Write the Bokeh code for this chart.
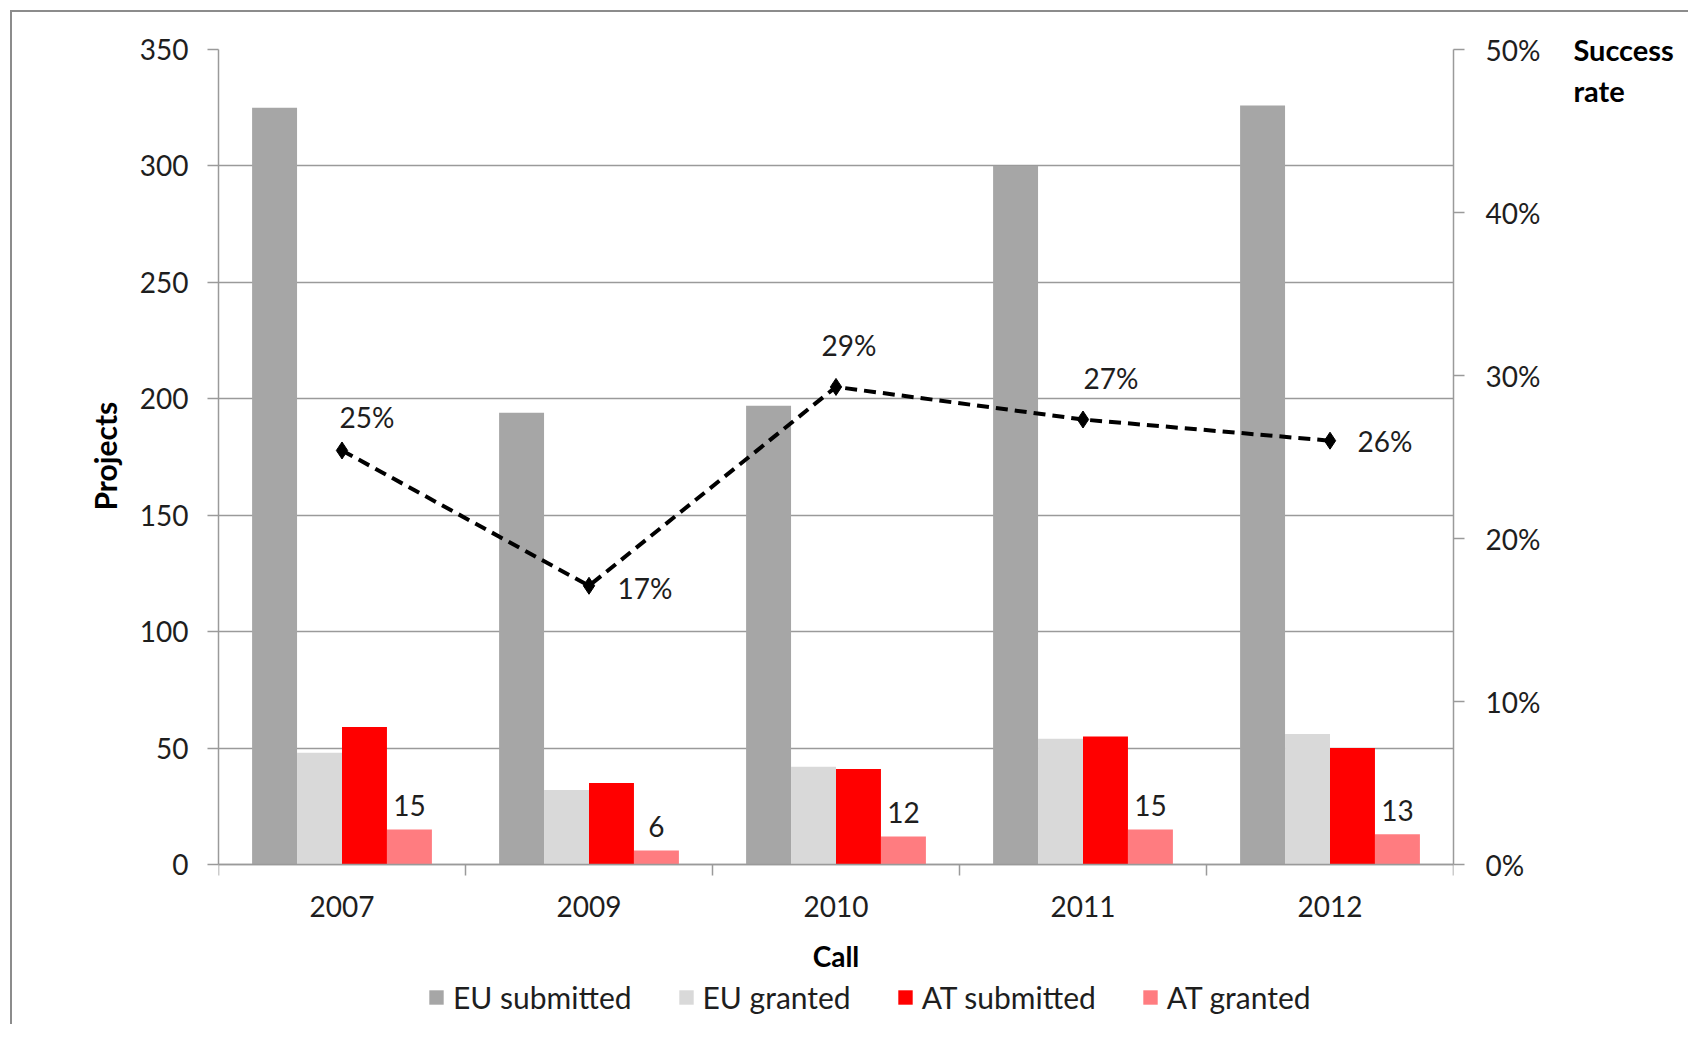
import numpy as np
from bokeh.plotting import figure
from bokeh.models import (Range1d, LinearAxis, FixedTicker, PrintfTickFormatter,
                          Legend, LegendItem, Label, ColumnDataSource, Title)
from bokeh.embed import file_html
from bokeh.resources import INLINE
from bokeh.core.properties import value

# ---------------- data ----------------
calls = ["2007", "2009", "2010", "2011", "2012"]
eu_submitted = [325, 194, 197, 300, 326]
eu_granted = [48, 32, 42, 54, 56]
at_submitted = [59, 35, 41, 55, 50]
at_granted = [15, 6, 12, 15, 13]
success_rate = [25.4, 17.1, 29.3, 27.3, 26.0]   # percent
rate_labels = ["25%", "17%", "29%", "27%", "26%"]
y_ticks = [0, 50, 100, 150, 200, 250, 300, 350]
rate_ticks = [0, 10, 20, 30, 40, 50]
y_max = 350
rate_max = 50

# ---------------- style / layout ----------------
FONT = "Lato"
FS = "28px"
FSB = "29px"
FSL = "30px"
TXT = "#1e1e1e"
AXC = "#9a9a9a"
colors = ["#A6A6A6", "#D9D9D9", "#FF0000", "#FF7C80"]
names = ["EU submitted", "EU granted", "AT submitted", "AT granted"]
bar_w = 0.182
offsets = [-1.5 * bar_w, -0.5 * bar_w, 0.5 * bar_w, 1.5 * bar_w]
rate_dx = [25, 56, 13, 28, 55]     # label offsets in pixels
rate_dy = [-33, 2, -42, -42, 0]

W, H = 1688, 1024
TOP, LEFT, RIGHT = 49, 218, 235
ZERO_PX = 864                       # pixel row of value 0
px_per_unit = (ZERO_PX - TOP) / y_max
y_min = -(H - ZERO_PX) / px_per_unit   # frame extends below 0 for labels/legend

p = figure(width=W, height=H, output_backend="svg", toolbar_location=None,
           x_range=Range1d(0, len(calls)), y_range=Range1d(y_min, y_max),
           min_border_left=LEFT, min_border_right=RIGHT, min_border_top=TOP,
           min_border_bottom=0)
p.extra_y_ranges = {"rate": Range1d(y_min * rate_max / y_max, rate_max)}
p.outline_line_color = None
p.border_fill_color = None
p.background_fill_color = "white"
p.styles = {"box-shadow": "inset 10px 10px 0 0 white, inset 12px 12px 0 0 #8c8c8c",
            "background": "white"}

centers = np.arange(len(calls)) + 0.5

# bars
series = [eu_submitted, eu_granted, at_submitted, at_granted]
renderers = []
for vals, off, col in zip(series, offsets, colors):
    r = p.vbar(x=centers + off, top=vals, width=bar_w, fill_color=col,
               line_color=None)
    renderers.append(r)

# labels on AT granted bars
p.text(x=centers + offsets[3], y=at_granted, text=[str(v) for v in at_granted],
       text_font=value(FONT), text_font_size=FS, text_color=TXT,
       text_align="center", text_baseline="alphabetic", y_offset=-24)

# success rate line
src = ColumnDataSource(dict(x=centers, y=success_rate, t=rate_labels,
                            dx=rate_dx, dy=rate_dy))
p.line(x="x", y="y", source=src, y_range_name="rate", line_color="black",
       line_width=4, line_dash="12 7")
p.scatter(x="x", y="y", source=src, y_range_name="rate", marker="diamond",
          size=17, fill_color="black", line_color="black")
p.text(x="x", y="y", text="t", source=src, y_range_name="rate",
       x_offset="dx", y_offset="dy", text_font=value(FONT), text_font_size=FS,
       text_color=TXT, text_align="center", text_baseline="middle")

# grid
p.xgrid.grid_line_color = None
p.ygrid.grid_line_color = AXC
p.ygrid.grid_line_width = 1.5

# left axis
ya = p.yaxis[0]
ya.ticker = FixedTicker(ticks=y_ticks, minor_ticks=[])
ya.bounds = (0, y_max)
ya.major_label_text_font = FONT
ya.major_label_text_font_size = FS
ya.major_label_text_color = TXT
ya.major_label_standoff = 19
ya.major_tick_out = 11
ya.major_tick_in = 0
ya.minor_tick_out = 0
ya.minor_tick_in = 0
ya.axis_line_color = AXC
ya.axis_line_width = 1.5
ya.major_tick_line_color = AXC
ya.major_tick_line_width = 1.5

# left title "Projects", placed along the 0..350 part of the axis
p.add_layout(Title(text="Projects", align="left", offset=514,
                   vertical_align="bottom", standoff=28,
                   text_font=FONT, text_font_size="30px",
                   text_font_style="bold", text_color="black"), "left")

# bottom axis, drawn at value 0 inside the extended frame
xa = p.xaxis[0]
xa.fixed_location = 0
xa.ticker = FixedTicker(ticks=list(centers),
                        minor_ticks=list(np.arange(len(calls) + 1)))
xa.major_label_overrides = {float(c): lab for c, lab in zip(centers, calls)}
xa.axis_label = "Call"
xa.axis_label_text_font = FONT
xa.axis_label_text_font_size = FS
xa.axis_label_text_font_style = "bold"
xa.axis_label_text_color = "black"
xa.axis_label_standoff = 19
xa.major_label_text_font = FONT
xa.major_label_text_font_size = FS
xa.major_label_text_color = TXT
xa.major_label_standoff = 20
xa.major_tick_out = 0
xa.major_tick_in = 0
xa.minor_tick_out = 11
xa.minor_tick_in = 0
xa.minor_tick_line_color = AXC
xa.minor_tick_line_width = 1.5
xa.axis_line_color = AXC
xa.axis_line_width = 1.5

# right axis
ra = LinearAxis(y_range_name="rate",
                ticker=FixedTicker(ticks=rate_ticks, minor_ticks=[]),
                formatter=PrintfTickFormatter(format="%d%%"),
                bounds=(0, rate_max))
ra.major_label_text_font = FONT
ra.major_label_text_font_size = FS
ra.major_label_text_color = TXT
ra.major_label_standoff = 21
ra.major_tick_out = 11
ra.major_tick_in = 0
ra.minor_tick_out = 0
ra.minor_tick_in = 0
ra.axis_line_color = AXC
ra.axis_line_width = 1.5
ra.major_tick_line_color = AXC
ra.major_tick_line_width = 1.5

if "axis_label_align" in LinearAxis.properties():
    ra.axis_label = "\nSuccess\nrate"
    ra.axis_label_orientation = "horizontal"
    ra.axis_label_align = "end"
    ra.axis_label_standoff = 30
    ra.axis_label_text_font = FONT
    ra.axis_label_text_font_size = FSB
    ra.axis_label_text_font_style = "bold"
    ra.axis_label_text_color = "black"
    ra.axis_label_text_align = "left"
    ra.axis_label_text_line_height = 1.16
else:
    for txt, yv in [("Success", 49.85), ("rate", 47.4)]:
        p.add_layout(Label(x=5.494, y=yv, y_range_name="rate", text=txt,
                           text_font=FONT, text_font_size=FSB,
                           text_font_style="bold", text_color="black",
                           text_align="left", text_baseline="middle"))
p.add_layout(ra, "right")

# legend inside the (extended) frame, below the axis
legend = Legend(items=[LegendItem(label=n, renderers=[r])
                       for n, r in zip(names, renderers)],
                orientation="horizontal", location=(209, 9),
                label_text_font=FONT, label_text_font_size=FSL,
                label_text_color=TXT, glyph_width=18, glyph_height=18,
                label_standoff=8, spacing=45, padding=0, margin=0,
                border_line_color=None, background_fill_alpha=0)
p.add_layout(legend)

open("out.html", "w").write(file_html(p, INLINE))
